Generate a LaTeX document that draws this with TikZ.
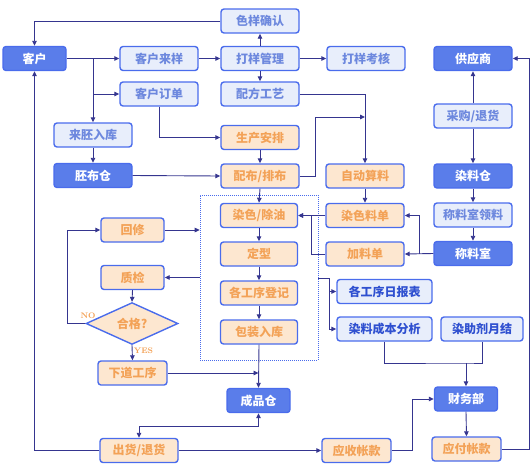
\documentclass[tikz,border=0pt]{standalone}
\usepackage{fontspec}
\newfontfamily\cjk{Noto Sans CJK SC}
\usetikzlibrary{arrows.meta,shapes.geometric}
\definecolor{dkfill}{HTML}{5A7DEA}
\definecolor{bdr}{HTML}{4A6CEC}
\definecolor{ltfill}{HTML}{E8EEFB}
\definecolor{lttext}{HTML}{6D88DE}
\definecolor{ltdtext}{HTML}{2F50D0}
\definecolor{orfill}{HTML}{FDE7D0}
\definecolor{ortext}{HTML}{F3A257}
\definecolor{arrc}{HTML}{35358F}
\tikzset{
  base/.style={rounded corners=3pt, line width=1.4pt, draw=bdr, minimum width=78pt, minimum height=24pt, inner sep=1pt,
    font=\cjk\bfseries\fontsize{12}{12}\selectfont},
  dkbox/.style={base, fill=dkfill, text=white},
  ltbox/.style={base, fill=ltfill, text=lttext},
  ldbox/.style={base, fill=ltfill, text=ltdtext},
  orbox/.style={base, fill=orfill, text=ortext},
  arr/.style={draw=arrc, line width=0.9pt, -{Triangle[length=5pt,width=4.5pt]}},
  ln/.style={draw=arrc, line width=0.9pt},
  dbl/.style={draw=arrc, line width=0.9pt, {Triangle[length=5pt,width=4.5pt]}-{Triangle[length=5pt,width=4.5pt]}},
  yn/.style={text=ortext, font=\bfseries\fontsize{8}{8}\selectfont, inner sep=0pt}
}
\begin{document}
\begin{tikzpicture}[x=1pt,y=-1pt]
\useasboundingbox (0,0) rectangle (532,464);
% dotted box
\node[draw=bdr, line width=0.6pt, dash pattern=on 1pt off 1pt, minimum width=118pt, minimum height=165pt, inner sep=0pt] (box) at (259,277.5) {};
% nodes
\node[dkbox, minimum width=63pt] (khu) at (34.5,58.5) {客户};
\node[ltbox] (sy) at (260,21) {色样确认};
\node[ltbox] (kl) at (159,58.5) {客户来样};
\node[ltbox] (dy) at (260,58.5) {打样管理};
\node[ltbox] (dk) at (366,58.5) {打样考核};
\node[dkbox] (gys) at (473,58.5) {供应商};
\node[ltbox] (kd) at (159,94) {客户订单};
\node[ltbox] (pf) at (260,94) {配方工艺};
\node[ltbox] (lp) at (93,135) {来胚入库};
\node[orbox] (sc) at (260,137.5) {生产安排};
\node[ltbox] (cg) at (473,116) {采购/退货};
\node[dkbox] (pb) at (93,175.5) {胚布仓};
\node[orbox] (pbu) at (260,176) {配布/排布};
\node[orbox] (zd) at (365,176) {自动算料};
\node[dkbox] (rlc) at (473,176) {染料仓};
\node[orbox, minimum width=77pt] (rs) at (259,215.5) {染色/除油};
\node[orbox, minimum width=63pt] (hx) at (132.5,230) {回修};
\node[orbox] (rsd) at (365,215.5) {染色料单};
\node[ltbox] (cll) at (473,215) {称料室领料};
\node[orbox, minimum width=77pt] (dx) at (259,254) {定型};
\node[orbox, minimum width=63pt] (zj) at (132.5,277.5) {质检};
\node[orbox] (jl) at (365,254) {加料单};
\node[dkbox] (cls) at (473,253.5) {称料室};
\node[orbox, minimum width=77pt] (gx) at (259,293) {各工序登记};
\node[ldbox, minimum width=95pt] (rb) at (384.5,291.5) {各工序日报表};
\node[orbox, shape=diamond, rounded corners=0pt, minimum width=92pt, minimum height=39pt, inner sep=0pt] (hg) at (132,323.5) {合格?};
\node[orbox, minimum width=77pt] (bz) at (259,332) {包装入库};
\node[ldbox, minimum width=95pt] (cb) at (384.5,329) {染料成本分析};
\node[ldbox, minimum width=82pt] (zy) at (482,329) {染助剂月结};
\node[orbox, minimum width=69pt] (xd) at (132.5,373) {下道工序};
\node[dkbox, minimum width=63pt] (cp) at (258.5,400.5) {成品仓};
\node[dkbox, minimum width=63pt] (cw) at (466,399) {财务部};
\node[orbox] (ch) at (139,450.5) {出货/退货};
\node[orbox, minimum width=69pt] (ys) at (356.5,450.5) {应收帐款};
\node[orbox, minimum width=69pt] (yf) at (466.5,449) {应付帐款};
\node[yn] (no) at (88,316) {NO};
\node[yn] (yes) at (143.5,351) {YES};
% coordinates
\coordinate (b1) at (93,58.5);
\coordinate (j1) at (365,117);
\coordinate (b2) at (419,253.5);
\coordinate (b3) at (329,278);
\coordinate (b4) at (466,363);
% connectors
\draw[arr] (sy.west) -| (khu.north);
\draw[arr] (khu.east) -- (kl.west);
\draw[arr] (b1) |- (kd.west);
\draw[arr] (b1) -- (lp.north);
\draw[arr] (lp) -- (pb);
\draw[arr] (pb.east) -- (pbu.west);
\draw[arr] (kd.south) |- (sc.west);
\draw[arr] (kl.east) -- (dy.west);
\draw[arr] (dy.north) -- (sy.south);
\draw[arr] (dy.south) -- (pf.north);
\draw[arr] (dy.east) -- (dk.west);
\draw[arr] (sc.south) -- (pbu.north);
\draw[arr] (pf.east) -| (zd.north);
\draw[arr] (pbu.east) -- ++(16,0) |- (j1);
\draw[arr] (zd.south) -- (rsd.north);
\draw[arr] (rsd.west) -- (rs.east);
\draw[arr] (jl.west) -- ++(-14,0) |- (rs.east);
\draw[arr] (cls.west) -- (jl.east);
\draw[arr] (b2) |- (rsd.east);
\draw[arr] (cg.north) -- (gys.south);
\draw[arr] (cg.south) -- (rlc.north);
\draw[arr] (rlc.south) -- (cll.north);
\draw[arr] (cll.south) -- (cls.north);
\draw[arr] (pbu.south) -- (rs.north);
\draw[arr] (rs) -- (dx);
\draw[arr] (dx) -- (gx);
\draw[arr] (gx) -- (bz);
\draw[arr] (bz.south) -- (cp.north);
\draw[arr] (hx.east) -- (hx.east -| box.west);
\draw[arr] (zj.east -| box.west) -- (zj.east);
\draw[arr] (zj.south) -- (hg.north);
\draw[arr] (hg.south) -- (xd.north);
\draw[arr] (hg.west) -- ++(-18,0) |- (hx.west);
\draw[arr] (xd.east) -- (xd.east -| cp.north);
\draw[ln] (box.east |- b3) -- (b3);
\draw[arr] (b3) |- (cb.west);
\draw[arr] (b3 |- rb.west) -- (rb.west);
\draw[ln] (cb.south) |- (b4) -| (zy.south);
\draw[arr] (b4) -- (cw.north);
\draw[dbl] (cp.south) -- ++(0,13) -| (ch.north);
\draw[arr] (ch.west) -| (khu.south);
\draw[arr] (ch.east) -- (ys.west);
\draw[arr] (ys.east) -- ++(21,0) |- (cw.west);
\draw[arr] (cw.south) -- (yf.north);
\draw[arr] (yf.east) -- ++(28,0) |- (gys.east);
\end{tikzpicture}
\end{document}
